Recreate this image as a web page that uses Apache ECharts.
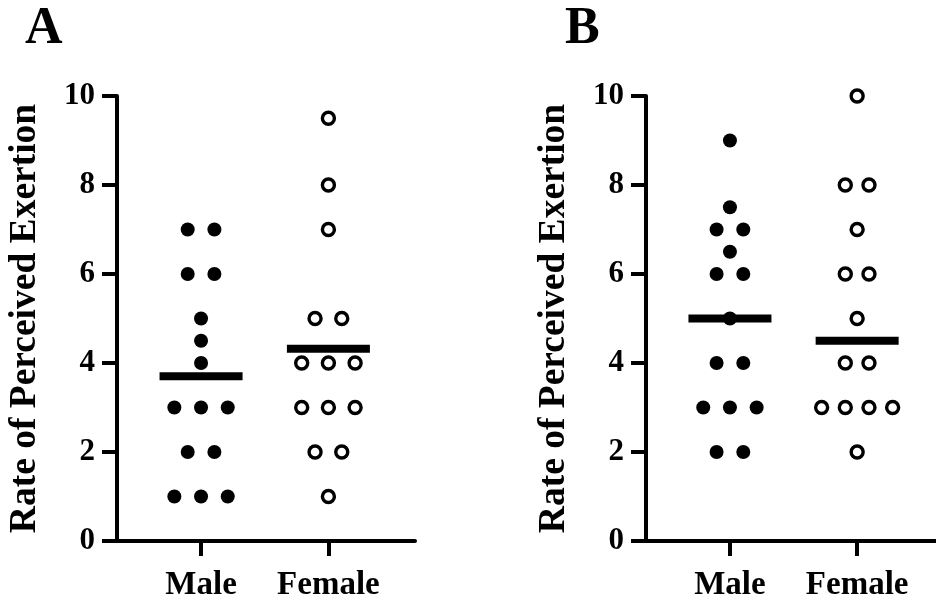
<!DOCTYPE html>
<html>
<head>
<meta charset="utf-8">
<script src="https://cdn.jsdelivr.net/npm/echarts@6/dist/echarts.min.js"></script>
<style>
  html, body { margin: 0; padding: 0; background: #fff; }
  #chart { width: 936px; height: 602px; }
</style>
</head>
<body>
<div id="chart"></div>
<script>
// Rate of perceived exertion by sex, two sessions (A and B)
const categories = ['Male', 'Female'];
const yTicks = [0, 2, 4, 6, 8, 10];

const maleA   = [7, 7, 6, 6, 5, 4.5, 4, 3, 3, 3, 2, 2, 1, 1, 1];
const femaleA = [9.5, 8, 7, 5, 5, 4, 4, 4, 3, 3, 3, 2, 2, 1];
const meanA   = [3.7, 4.32];

const maleB   = [9, 7.5, 7, 7, 6.5, 6, 6, 5, 4, 4, 3, 3, 3, 2, 2];
const femaleB = [10, 8, 8, 7, 6, 6, 5, 4, 4, 3, 3, 3, 3, 2];
const meanB   = [5.0, 4.5];

const FONT = '"Liberation Serif", "Times New Roman", serif';
const DOT_STEP = 26.7;   // px between neighbouring dots in a row
const ROW_SPAN = 71;     // widest row may not exceed this many px

// Spread tied values side by side (column scatter), returning pixel offsets
function swarm(values, xPos) {
  const counts = {};
  values.forEach(v => { counts[v] = (counts[v] || 0) + 1; });
  const maxCount = Math.max(...Object.values(counts));
  const step = maxCount > 1 ? Math.min(DOT_STEP, ROW_SPAN / (maxCount - 1)) : DOT_STEP;
  const seen = {};
  return values.map(v => {
    const k = counts[v];
    const i = seen[v] = (seen[v] === undefined ? 0 : seen[v] + 1);
    return { value: [xPos, v], symbolOffset: [(i - (k - 1) / 2) * step, 0] };
  });
}

function filledSeries(values, xPos, axis) {
  return {
    type: 'scatter', xAxisIndex: axis, yAxisIndex: axis,
    data: swarm(values, xPos), symbol: 'circle', symbolSize: 14,
    itemStyle: { color: '#000', opacity: 1 }, z: 3, silent: true
  };
}
function openSeries(values, xPos, axis) {
  return {
    type: 'scatter', xAxisIndex: axis, yAxisIndex: axis,
    data: swarm(values, xPos), symbol: 'circle', symbolSize: 12,
    itemStyle: { color: '#fff', borderColor: '#000', borderWidth: 3.4, opacity: 1 }, z: 3, silent: true
  };
}
function meanSeries(means, axis) {
  return {
    type: 'custom', xAxisIndex: axis, yAxisIndex: axis, z: 2, silent: true,
    data: means.map((m, i) => [i + 1, m]),
    renderItem: (params, api) => {
      const p = api.coord([api.value(0), api.value(1)]);
      return { type: 'rect', shape: { x: p[0] - 41.5, y: p[1] - 4, width: 83, height: 8 },
               style: { fill: '#000' } };
    }
  };
}

function xAxisDef(gridIndex, min, max) {
  return {
    type: 'value', gridIndex, min, max,
    axisLine: { show: true, onZero: false, lineStyle: { color: '#000', width: 4 } },
    axisTick: { show: true, customValues: [1, 2], length: 15, lineStyle: { color: '#000', width: 4 } },
    axisLabel: { customValues: [1, 2], formatter: v => categories[Math.round(v) - 1] || '',
                 margin: 28, color: '#000', fontFamily: FONT, fontWeight: 'bold', fontSize: 33 },
    splitLine: { show: false }
  };
}
function yAxisDef(gridIndex) {
  return {
    type: 'value', gridIndex, min: yTicks[0], max: yTicks[yTicks.length - 1], interval: 2,
    name: 'Rate of Perceived Exertion', nameLocation: 'middle', nameGap: 73,
    nameTextStyle: { color: '#000', fontFamily: FONT, fontWeight: 'bold', fontSize: 37.5 },
    axisLine: { show: true, lineStyle: { color: '#000', width: 4 } },
    axisTick: { show: true, length: 15, lineStyle: { color: '#000', width: 4 } },
    axisLabel: { margin: 22, color: '#000', fontFamily: FONT, fontWeight: 'bold', fontSize: 31 },
    splitLine: { show: false }
  };
}

const chart = echarts.init(document.getElementById('chart'), null, { renderer: 'canvas' });
chart.setOption({
  backgroundColor: '#fff',
  animation: false,
  title: [
    { text: 'A', left: 20, top: -1, textStyle: { fontFamily: FONT, fontWeight: 'bold', fontSize: 52, color: '#000' } },
    { text: 'B', left: 560, top: -1, textStyle: { fontFamily: FONT, fontWeight: 'bold', fontSize: 52, color: '#000' } }
  ],
  grid: [
    { left: 117, top: 96, width: 298, height: 446 },
    { left: 646, top: 96, width: 290, height: 446 }
  ],
  xAxis: [xAxisDef(0, 0.34, 2.68), xAxisDef(1, 0.34, 2.62)],
  yAxis: [yAxisDef(0), yAxisDef(1)],
  series: [
    meanSeries(meanA, 0),
    filledSeries(maleA, 1, 0),
    openSeries(femaleA, 2, 0),
    meanSeries(meanB, 1),
    filledSeries(maleB, 1, 1),
    openSeries(femaleB, 2, 1)
  ]
});
</script>
</body>
</html>
